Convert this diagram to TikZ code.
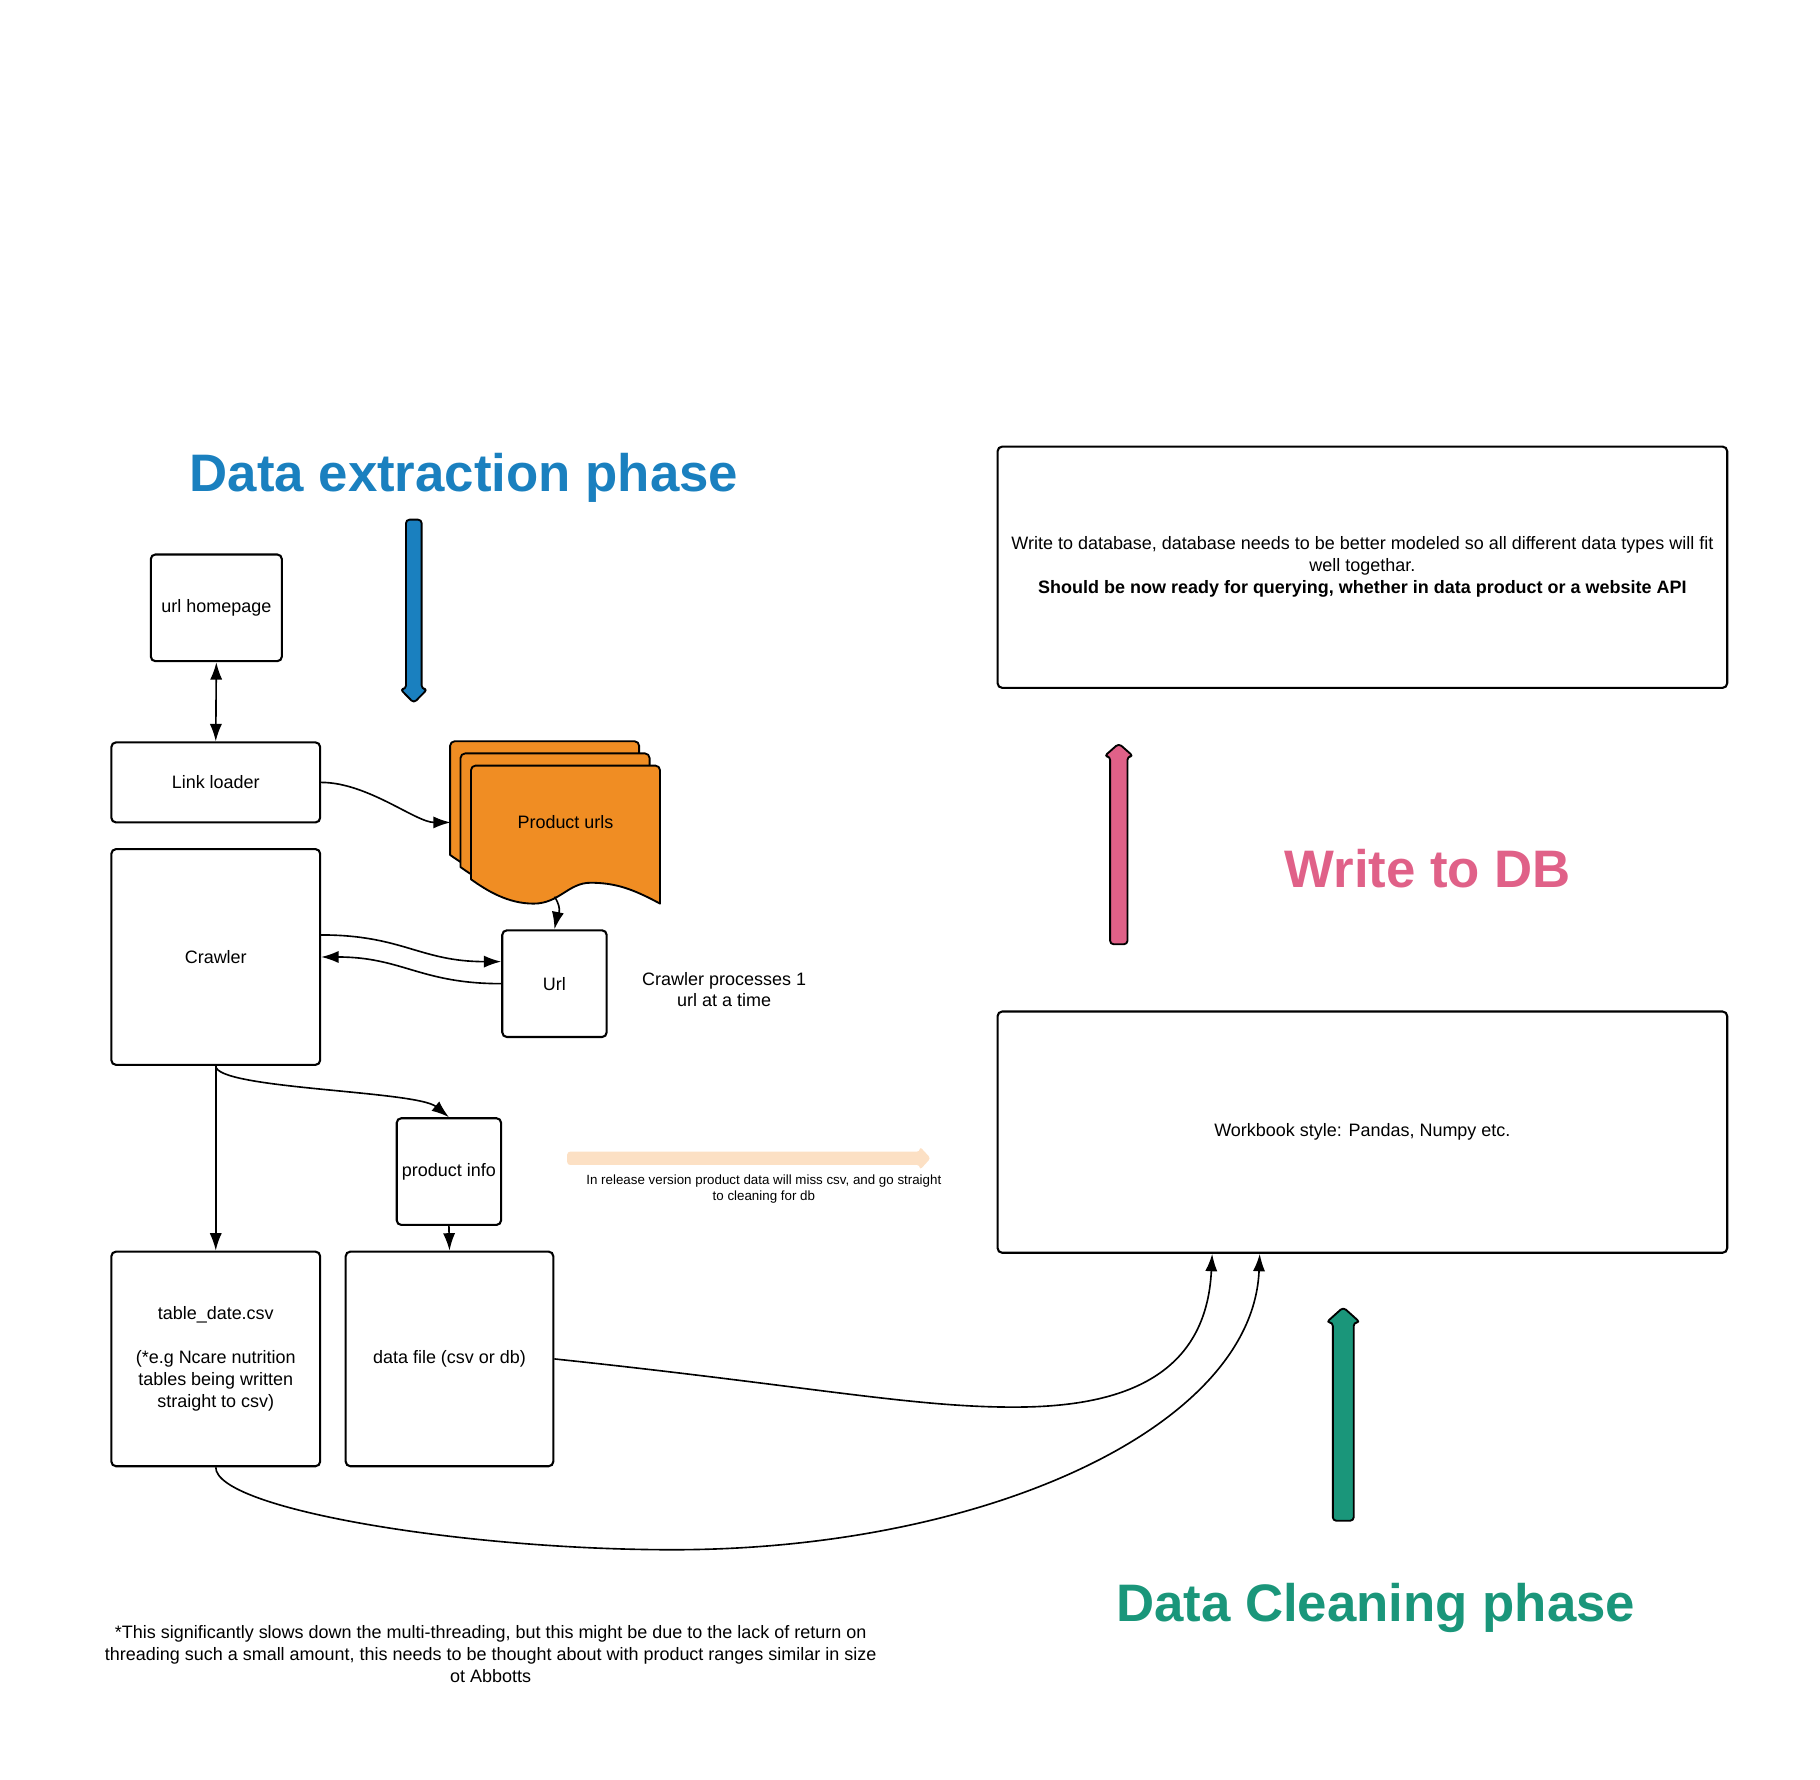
\documentclass[tikz,border=0pt]{standalone}
\usepackage{fontspec}
\setmainfont{Liberation Sans}
\usepackage{tikz}
\usetikzlibrary{arrows.meta,positioning}
\usepackage{color}

\definecolor{phaseblue}{HTML}{1A80BF}
\definecolor{dbpink}{HTML}{E06188}
\definecolor{cleangreen}{HTML}{1A967A}
\definecolor{urlorange}{HTML}{F08D23}
\definecolor{releasepeach}{HTML}{FCE0C4}

\tikzset{
	>={Latex[length=15pt,width=10.5pt]},
	box/.style={draw=black,line width=1.8pt,rounded corners=4pt,fill=white,align=center,inner sep=0pt,font=\fontsize{15.5}{19}\selectfont},
	flow/.style={line width=1.4pt},
	phase/.style={inner sep=0pt,anchor=base,font=\fontsize{45.5}{50}\selectfont\bfseries},
	note/.style={inner sep=0pt,align=center,font=\fontsize{15.5}{19}\selectfont},
	fatarrow/.style={draw=black,line width=1.6pt,rounded corners=3pt,line join=round},
	docpage/.style={draw=black,line width=1.6pt,fill=urlorange,line join=round}
}

\begin{document}
\begin{tikzpicture}[x=1pt,y=-1pt]
	\useasboundingbox (0,0) rectangle (1569,1534);
	%% the phase titles
	\node[phase,text=phaseblue] (extract) at (400,423.7) {Data extraction phase};
	\node[phase,text=dbpink] (writedb) at (1231,765.5) {Write to DB};
	\node[phase,text=cleangreen] (cleaning) at (1186,1398) {Data Cleaning phase};
	%% the fat phase arrows
	\draw[fatarrow,fill=phaseblue] (350,448) -- (363.5,448) -- (363.5,594) -- (368.5,594) -- (356.75,606) -- (345,594) -- (350,594) -- cycle;
	\draw[fatarrow,fill=dbpink] (957,814) -- (972,814) -- (972,652) -- (977,652) -- (964.5,641) -- (952,652) -- (957,652) -- cycle;
	\draw[fatarrow,fill=cleangreen] (1149,1311) -- (1167,1311) -- (1167,1140) -- (1172.5,1140) -- (1158,1127) -- (1143.5,1140) -- (1149,1140) -- cycle;
	%% the boxes
	\node[box,minimum width=113,minimum height=92] (home) at (186.5,524) {url homepage};
	\node[box,minimum width=180,minimum height=69] (loader) at (186,674.5) {Link loader};
	\node[box,minimum width=180,minimum height=186] (crawler) at (186,825) {Crawler};
	\node[box,minimum width=90,minimum height=92] (url) at (478,848) {Url};
	\node[box,minimum width=90,minimum height=92] (info) at (387,1010) {product info};
	\node[box,minimum width=180,minimum height=185] (table) at (186,1171.5) {table\_date.csv\\[19pt](*e.g Ncare nutrition\\tables being written\\straight to csv)};
	\node[box,minimum width=179,minimum height=185] (datafile) at (387.5,1171.5) {data file (csv or db)};
	\node[box,minimum width=629,minimum height=208] (dbbox) at (1174.5,489) {Write to database, database needs to be better modeled so all different data types will fit\\well togethar.\\\textbf{Should be now ready for querying, whether in data product or a website API}};
	\node[box,minimum width=629,minimum height=208] (wb) at (1174.5,976) {Workbook style: Pandas, Numpy etc.};
	%% the stack of product urls
	\foreach \dx/\dy in {-18/-21,-9/-10.5,0/0}
		\draw[docpage,shift={(\dx,\dy)}] (406,758) [rounded corners=4pt] -- (406,660) -- (569,660) [sharp corners] -- (569,779)
			.. controls (545,766) and (530,761) .. (509,761) .. controls (490,761) and (482,779) .. (460,779)
			.. controls (438,779) and (420,768) .. (406,758) -- cycle;
	\node[note] (urls) at (487.5,708.3) {Product urls};
	\coordinate (stackin) at (388.5,709);
	\coordinate (stackout) at (478,773);
	%% the release arrow
	\fill[releasepeach,rounded corners=2.5pt] (489,992.8) -- (793,992.8) -- (793,988.5) -- (802.3,998.5) -- (793,1008.6) -- (793,1004.3) -- (489,1004.3) -- cycle;
	\node[note,font=\fontsize{11.5}{14}\selectfont] (release) at (658.5,1025) {In release version product data will miss csv, and go straight\\to cleaning for db};
	%% the notes
	\node[note,font=\fontsize{15.5}{18}\selectfont] (crawlnote) at (624.3,853.4) {Crawler processes 1\\url at a time};
	\node[note] (footnote) at (423,1426) {*This significantly slows down the multi-threading, but this might be due to the lack of return on\\threading such a small amount, this needs to be thought about with product ranges similar in size\\ot Abbotts};
	%% the connectors
	\draw[flow,<->] (home.south) -- (loader.north);
	\draw[flow,->] (loader.east) .. controls +(40,0) and +(-30,0) .. (stackin);
	\draw[flow,->] (stackout) .. controls +(8,12) and +(2,-10) .. (url.north);
	\draw[flow,->] ([yshift=19pt]crawler.east) .. controls +(70,0) and +(-70,0) .. ([yshift=19pt]url.west);
	\draw[flow,->] (url.west) .. controls +(-70,0) and +(70,0) .. (crawler.east);
	\draw[flow,->] (crawler.south) -- (table.north);
	\draw[flow,->] (crawler.south) .. controls +(0,20) and +(-28,-23) .. (info.north);
	\draw[flow,->] (info.south) -- (datafile.north);
	\draw[flow,->] (datafile.east) .. controls (700,1195) and (790,1214) .. (880,1213) .. controls (970,1212) and (1040,1185) .. ([xshift=-129.5pt]wb.south);
	\draw[flow,->] (table.south) .. controls +(0,36) and (400,1336) .. (580,1336) .. controls (850,1336) and (1080,1230) .. ([xshift=-88.5pt]wb.south);
\end{tikzpicture}
\end{document}
